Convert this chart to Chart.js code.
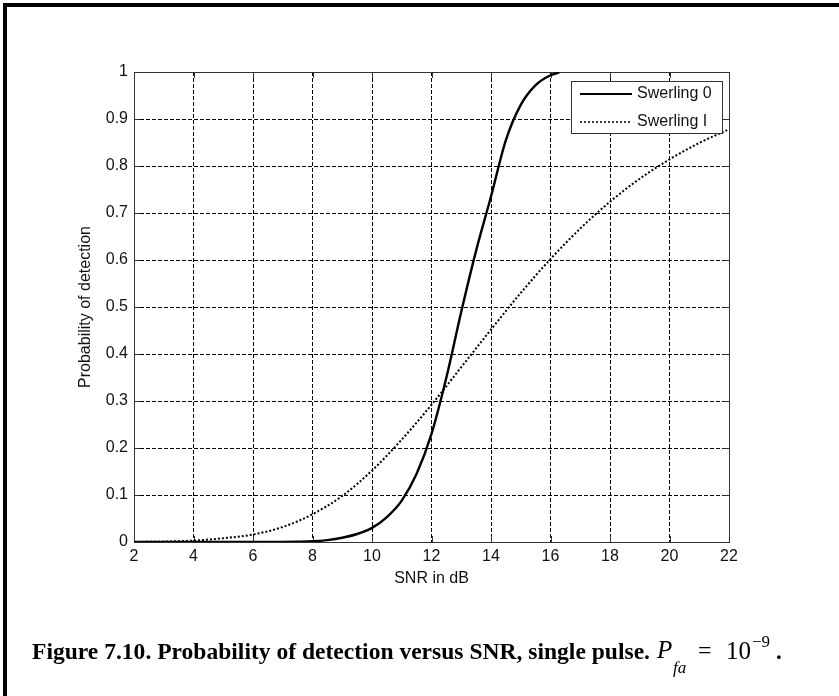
<!DOCTYPE html>
<html>
<head>
<meta charset="utf-8">
<script src="https://cdn.jsdelivr.net/npm/chart.js@4.4.1/dist/chart.umd.min.js"></script>
<style>
  html, body { margin: 0; padding: 0; background: #fff; }
  #wrap { position: relative; width: 839px; height: 696px; overflow: hidden; background: #fff; }
  #frame { position: absolute; left: 3px; top: 3px; width: 900px; height: 800px;
           border-left: 4px solid #000; border-top: 4px solid #000; box-sizing: border-box; }
  canvas { position: absolute; left: 0; top: 0; }
  .cap { position: absolute; white-space: nowrap; font-family: "Liberation Serif", "Times New Roman", serif; color: #000; line-height: 1; }
</style>
</head>
<body>
<div id="wrap">
  <canvas id="c" width="839" height="696" style="width:839px;height:696px"></canvas>
  <div id="frame"></div>
  <div class="cap" id="capMain" style="left:32px; top:640px; font-size:23px; font-weight:bold; transform-origin:0 0;">Figure 7.10. Probability of detection versus SNR, single pulse.</div>
  <div class="cap" style="left:657px; top:637px; font-size:25px; font-style:italic;">P</div>
  <div class="cap" style="left:673px; top:659px; font-size:17px; font-style:italic;">fa</div>
  <div class="cap" style="left:698px; top:638px; font-size:24px;">=</div>
  <div class="cap" style="left:726px; top:638px; font-size:25px;">10</div>
  <div class="cap" style="left:752px; top:633px; font-size:17px;">&minus;9</div>
  <div class="cap" style="left:776px; top:640px; font-size:23px; font-weight:bold;">.</div>
</div>
<script>
// ---- data ----
const seriesNames = ['Swerling 0', 'Swerling I'];

const snrSw0 = [2, 3, 4, 5, 6, 7, 7.5, 8, 8.5, 9, 9.5, 10, 10.5, 11, 11.5, 12, 12.5, 13, 13.5, 14, 14.5, 15, 15.5, 16, 16.3];
const pdSw0  = [0, 0, 0, 0, 0, 0.0002, 0.0006, 0.0015, 0.004, 0.009, 0.017, 0.03, 0.053, 0.088, 0.145, 0.23, 0.35, 0.49, 0.62, 0.735, 0.855, 0.93, 0.972, 0.993, 0.999];

const snrSw1 = [2, 3, 4, 5, 6, 7, 8, 9, 10, 11, 12, 13, 14, 15, 16, 17, 18, 19, 20, 21, 22];
const pdSw1  = [0.0001, 0.0008, 0.003, 0.008, 0.016, 0.032, 0.059, 0.098, 0.152, 0.218, 0.292, 0.372, 0.452, 0.53, 0.602, 0.667, 0.724, 0.773, 0.814, 0.849, 0.878];

const xTickValues = [2, 4, 6, 8, 10, 12, 14, 16, 18, 20, 22];
const yTickValues = [0, 0.1, 0.2, 0.3, 0.4, 0.5, 0.6, 0.7, 0.8, 0.9, 1];
const yTickLabels = ['0', '0.1', '0.2', '0.3', '0.4', '0.5', '0.6', '0.7', '0.8', '0.9', '1'];
const xTitle = 'SNR in dB';
const yTitle = 'Probability of detection';

// fit the bold caption to the width it has in the reference
(function () {
  const el = document.getElementById('capMain');
  const w = el.getBoundingClientRect().width;
  el.style.transform = 'scaleX(' + (618 / w) + ')';
})();

// ---- chart ----
const toPoints = (xs, ys) => xs.map((x, i) => ({ x: x, y: ys[i] }));
const FONT = "'Liberation Sans', Arial, sans-serif";
const TXT = '#111';
const AXIS = '#333';

const boxPlugin = {
  id: 'matlabBox',
  beforeDatasetsDraw(chart) {
    const { ctx, chartArea: a, scales } = chart;
    ctx.save();
    ctx.strokeStyle = AXIS;
    ctx.lineWidth = 1;
    ctx.setLineDash([]);
    ctx.strokeRect(Math.round(a.left) + 0.5, Math.round(a.top) + 0.5,
                   Math.round(a.right - a.left), Math.round(a.bottom - a.top));
    const tl = 6;
    ctx.beginPath();
    xTickValues.forEach(v => {
      const px = Math.round(scales.x.getPixelForValue(v)) + 0.5;
      ctx.moveTo(px, a.bottom); ctx.lineTo(px, a.bottom - tl);
      ctx.moveTo(px, a.top); ctx.lineTo(px, a.top + tl);
    });
    yTickValues.forEach(v => {
      const py = Math.round(scales.y.getPixelForValue(v)) + 0.5;
      ctx.moveTo(a.left, py); ctx.lineTo(a.left + tl, py);
      ctx.moveTo(a.right, py); ctx.lineTo(a.right - tl, py);
    });
    ctx.stroke();
    ctx.restore();
  },
  afterDatasetsDraw(chart) {
    const { ctx, chartArea: a } = chart;
    const bw = 151, bh = 52;
    const bx = Math.round(a.right) - 7 - bw, by = Math.round(a.top) + 9;
    ctx.save();
    ctx.fillStyle = '#fff';
    ctx.fillRect(bx, by, bw, bh);
    ctx.strokeStyle = AXIS;
    ctx.lineWidth = 1;
    ctx.setLineDash([]);
    ctx.strokeRect(bx + 0.5, by + 0.5, bw, bh);
    ctx.font = '16px ' + FONT;
    ctx.textBaseline = 'middle';
    ctx.fillStyle = TXT;
    chart.data.datasets.forEach((ds, i) => {
      const ly = by + 13 + i * 28;
      ctx.beginPath();
      ctx.strokeStyle = ds.borderColor;
      ctx.lineWidth = i === 0 ? 2 : 1.5;
      ctx.setLineDash(ds.borderDash || []);
      ctx.moveTo(bx + 9, ly); ctx.lineTo(bx + 61, ly);
      ctx.stroke();
      ctx.setLineDash([]);
      ctx.fillText(ds.label, bx + 66, ly);
    });
    ctx.restore();
  }
};

const gridColor = (lo, hi) => c => (c.tick && (c.tick.value === lo || c.tick.value === hi)) ? 'rgba(0,0,0,0)' : '#000';

new Chart(document.getElementById('c'), {
  type: 'line',
  data: {
    datasets: [
      { label: seriesNames[0], data: toPoints(snrSw0, pdSw0), borderColor: '#000', borderWidth: 2.4,
        pointRadius: 0, cubicInterpolationMode: 'monotone', fill: false },
      { label: seriesNames[1], data: toPoints(snrSw1, pdSw1), borderColor: '#000', borderWidth: 2,
        borderDash: [2, 2], pointRadius: 0, cubicInterpolationMode: 'monotone', fill: false }
    ]
  },
  options: {
    responsive: false,
    animation: false,
    devicePixelRatio: 1,
    layout: { padding: { left: 0, top: 72, right: 110, bottom: 94 } },
    plugins: { legend: { display: false }, tooltip: { enabled: false } },
    scales: {
      x: {
        type: 'linear', min: 2, max: 22,
        afterBuildTicks: s => { s.ticks = xTickValues.map(v => ({ value: v })); },
        afterFit: s => { s.height = 60; },
        border: { display: false, dash: [4, 2] },
        grid: { drawTicks: false, lineWidth: 1, color: gridColor(2, 22) },
        ticks: { padding: 5, color: TXT, font: { family: FONT, size: 16 }, maxRotation: 0,
                 callback: v => String(v) },
        title: { display: true, text: xTitle, color: TXT, font: { family: FONT, size: 16 },
                 padding: { top: 0, bottom: 14 } }
      },
      y: {
        type: 'linear', min: 0, max: 1,
        afterBuildTicks: s => { s.ticks = yTickValues.map(v => ({ value: v })); },
        afterFit: s => { s.width = 134; },
        border: { display: false, dash: [4, 2] },
        grid: { drawTicks: false, lineWidth: 1, color: gridColor(0, 1) },
        ticks: { padding: 6, color: TXT, font: { family: FONT, size: 16 },
                 callback: (v) => { const i = yTickValues.indexOf(v); return i >= 0 ? yTickLabels[i] : ''; } },
        title: { display: true, text: yTitle, color: TXT, font: { family: FONT, size: 16 },
                 padding: { top: 76, bottom: 0 } }
      }
    }
  },
  plugins: [boxPlugin]
});
</script>
</body>
</html>
